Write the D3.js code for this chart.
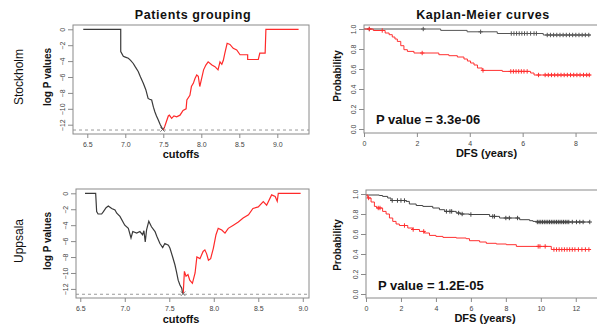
<!DOCTYPE html>
<html><head><meta charset="utf-8">
<script src="https://cdn.jsdelivr.net/npm/d3@7"></script>
<style>
html,body{margin:0;padding:0;background:#fff;}
svg{display:block;font-family:"Liberation Sans",Arial,Helvetica,sans-serif;}
</style></head>
<body><svg id="c" width="597" height="326"></svg>
<script>
// ---------------- DATA ----------------
const cutoffTicks = [6.5, 7.0, 7.5, 8.0, 8.5, 9.0];
const logPTicks = [0, -2, -4, -6, -8, -10, -12];
const probTicks = [0, 0.2, 0.4, 0.6, 0.8, 1.0];
const stoDfsTicks = [0, 2, 4, 6, 8];
const uppDfsTicks = [0, 2, 4, 6, 8, 10, 12];

// Stockholm – log P value vs cutoff
const stoLowX = [6.447, 6.94, 6.94, 6.974, 7.0, 7.04, 7.07, 7.105, 7.13, 7.17, 7.2, 7.237, 7.27, 7.30, 7.32, 7.347, 7.37, 7.39, 7.41, 7.434, 7.46, 7.49];
const stoLowY = [0, 0, -2.8, -3.4, -3.5, -3.65, -3.9, -4.3, -4.7, -5.3, -6.0, -6.8, -7.6, -8.7, -8.8, -8.9, -9.8, -10.4, -10.9, -11.4, -12.0, -12.55];
const stoHighX = [7.5, 7.52, 7.566, 7.58, 7.61, 7.64, 7.676, 7.72, 7.76, 7.80, 7.81, 7.85, 7.87, 7.895, 7.917, 7.94, 7.96, 7.98, 8.03, 8.06, 8.09, 8.14, 8.18, 8.22, 8.246, 8.27, 8.29, 8.31, 8.34, 8.377, 8.42, 8.466, 8.51, 8.61, 8.61, 8.75, 8.77, 8.84, 8.85, 9.28];
const stoHighY = [-12.67, -12.2, -10.9, -10.8, -11.2, -10.9, -11.0, -10.8, -10.2, -10.0, -8.9, -8.3, -7.2, -6.8, -6.2, -5.75, -5.9, -7.2, -5.1, -4.5, -4.1, -4.5, -4.7, -5.1, -4.1, -4.4, -3.9, -3.0, -1.76, -1.9, -2.4, -2.6, -3.2, -3.2, -3.8, -3.8, -3.0, -3.0, 0, 0];
const stoBest = [7.49, -12.6];
const stoThreshold = -12.67;

// Uppsala – log P value vs cutoff
const uppLowX = [6.553, 6.673, 6.684, 6.70, 6.74, 6.76, 6.79, 6.815, 6.853, 6.89, 6.91, 6.946, 7.0, 7.04, 7.07, 7.09, 7.134, 7.17, 7.2, 7.215, 7.23, 7.245, 7.27, 7.30, 7.34, 7.36, 7.395, 7.426, 7.45, 7.49, 7.508, 7.538, 7.564, 7.58, 7.6, 7.62, 7.64, 7.65];
const uppLowY = [0, 0, -2.3, -2.6, -2.6, -2.3, -1.8, -1.6, -1.9, -2.1, -2.5, -2.9, -4.0, -4.4, -5.6, -4.8, -5.0, -4.8, -5.2, -4.7, -6.1, -4.6, -3.5, -4.2, -4.8, -5.4, -6.3, -6.8, -6.3, -6.5, -6.9, -8.0, -9.0, -9.8, -10.9, -11.5, -11.9, -12.55];
const uppHighX = [7.657, 7.67, 7.688, 7.71, 7.73, 7.76, 7.79, 7.81, 7.845, 7.88, 7.90, 7.92, 7.94, 7.965, 7.995, 8.025, 8.05, 8.09, 8.126, 8.163, 8.22, 8.276, 8.33, 8.39, 8.44, 8.5, 8.556, 8.594, 8.65, 8.69, 8.713, 8.725, 8.976];
const uppHighY = [-12.55, -9.8, -10.4, -10.2, -10.9, -11.3, -10.0, -8.0, -8.2, -7.3, -7.1, -7.6, -8.4, -8.2, -6.9, -5.2, -4.4, -4.6, -5.0, -4.4, -4.0, -3.6, -3.1, -2.7, -1.9, -1.7, -1.05, -1.5, -0.2, -0.4, -1.0, 0, 0];
const uppBest = [7.655, -12.6];
const uppThreshold = -12.67;

// Stockholm – Kaplan-Meier (DFS years, survival)
const stoLowT = [0, 2.9, 3.9, 5.04, 6.78];
const stoLowS = [1.0, 0.986, 0.972, 0.955, 0.94];
const stoLowEnd = 8.57;
const stoLowCens = [0.2, 2.24, 4.41, 5.57, 5.67, 5.77, 5.87, 5.97, 6.07, 6.17, 6.3, 6.43, 6.52, 6.93, 7.05, 7.17, 7.29, 7.41, 7.53, 7.65, 7.77, 7.89, 8.01, 8.13, 8.25, 8.37, 8.5];
const stoHighT = [0, 0.35, 0.8, 0.95, 1.07, 1.17, 1.26, 1.39, 1.51, 1.64, 1.89, 2.83, 3.21, 3.53, 3.78, 3.91, 4.03, 4.16, 4.29, 4.47, 5.23, 6.3, 6.43];
const stoHighS = [1.0, 0.985, 0.96, 0.943, 0.92, 0.90, 0.876, 0.833, 0.793, 0.776, 0.76, 0.743, 0.733, 0.72, 0.70, 0.68, 0.66, 0.64, 0.61, 0.586, 0.576, 0.56, 0.54];
const stoHighEnd = 8.57;
const stoHighCens = [0.2, 0.69, 2.2, 4.5, 5.55, 5.65, 5.75, 5.85, 5.95, 6.05, 6.17, 6.6, 6.85, 6.97, 7.09, 7.21, 7.33, 7.45, 7.57, 7.69, 7.81, 7.93, 8.05, 8.17, 8.3, 8.42, 8.52];
const stoPText = "P value = 3.3e-06";

// Uppsala – Kaplan-Meier
const uppLowT = [0, 0.76, 0.95, 1.24, 1.43, 2.29, 2.48, 2.87, 3.25, 3.82, 4.2, 4.5, 5.16, 5.4, 5.92, 7.07, 7.64, 8.79, 9.36, 9.55, 9.75];
const uppLowS = [0.99, 0.985, 0.976, 0.96, 0.935, 0.926, 0.90, 0.885, 0.876, 0.86, 0.843, 0.826, 0.81, 0.80, 0.795, 0.776, 0.76, 0.743, 0.733, 0.726, 0.72];
const uppLowEnd = 12.8;
const uppLowCens = [1.5, 1.8, 2.0, 2.2, 4.6, 4.8, 4.9, 5.3, 5.5, 6.0, 7.25, 7.35, 8.0, 8.2, 8.67, 9.8, 9.9, 10.0, 10.1, 10.2, 10.3, 10.4, 10.5, 10.6, 10.7, 10.8, 10.9, 11.0, 11.1, 11.2, 11.3, 11.4, 11.5, 11.6, 11.8, 12.04, 12.23, 12.42, 12.8];
const uppHighT = [0, 0.1, 0.29, 0.48, 0.61, 0.95, 1.15, 1.34, 1.53, 1.72, 1.91, 2.39, 2.67, 3.06, 3.34, 3.63, 4.0, 4.4, 5.16, 5.73, 5.92, 6.5, 6.88, 7.45, 8.03, 8.6, 10.6];
const uppHighS = [0.99, 0.96, 0.92, 0.876, 0.86, 0.826, 0.80, 0.76, 0.726, 0.70, 0.685, 0.66, 0.645, 0.626, 0.61, 0.586, 0.576, 0.566, 0.56, 0.553, 0.533, 0.52, 0.507, 0.50, 0.493, 0.476, 0.445];
const uppHighEnd = 12.8;
const uppHighCens = [0.15, 0.7, 0.8, 2.2, 2.7, 3.3, 9.85, 9.95, 10.25, 10.75, 10.9, 11.05, 11.2, 11.35, 11.5, 11.65, 11.8, 11.95, 12.15, 12.35, 12.55, 12.75];
const uppPText = "P value = 1.2E-05";

// ---------------- DRAW ----------------
const svg = d3.select("#c");
svg.append("rect").attr("width",597).attr("height",326).attr("fill","#fff");
const BLACK = "#3a3a3a", RED = "#ff2a2a", FRAME = "#8a8a8a", TICKTXT = "#444";

function panel(box, xd, yd, xticks, yticks, fmtX, fmtY) {
  const x = d3.scaleLinear().domain(xd).range([box.x0, box.x1]);
  const y = d3.scaleLinear().domain(yd).range([box.y1, box.y0]);
  const g = svg.append("g");
  const ax = g.append("g").attr("transform", `translate(0,${box.y1})`)
    .call(d3.axisBottom(x).tickValues(xticks).tickFormat(fmtX).tickSize(4).tickPadding(4));
  ax.select(".domain").remove();
  ax.selectAll("line").attr("stroke", FRAME);
  ax.selectAll("text").attr("font-size", 7).attr("fill", TICKTXT).attr("font-family","Liberation Sans, Arial, sans-serif");
  const ay = g.append("g").attr("transform", `translate(${box.x0},0)`)
    .call(d3.axisLeft(y).tickValues(yticks).tickFormat(fmtY).tickSize(5).tickPadding(0));
  ay.select(".domain").remove();
  ay.selectAll("line").attr("stroke", FRAME);
  ay.selectAll("text").attr("font-size", 7).attr("fill", TICKTXT)
    .attr("font-family","Liberation Sans, Arial, sans-serif")
    .attr("x", null).attr("dy", null)
    .attr("text-anchor", "middle")
    .attr("transform", "translate(-8.5,0) rotate(-90)");
  const clipId = "clip" + Math.round(box.x0) + "_" + Math.round(box.y0);
  svg.append("clipPath").attr("id", clipId).append("rect")
    .attr("x", box.x0).attr("y", box.y0).attr("width", box.x1 - box.x0).attr("height", box.y1 - box.y0);
  const plot = g.append("g").attr("clip-path", `url(#${clipId})`);
  g.append("rect").attr("x", box.x0).attr("y", box.y0)
    .attr("width", box.x1 - box.x0).attr("height", box.y1 - box.y0)
    .attr("fill", "none").attr("stroke", FRAME).attr("stroke-width", 1);
  return {x, y, g, plot};
}

function groupingPanel(box, xd, yd, lowX, lowY, highX, highY, best, thr) {
  const p = panel(box, xd, yd, cutoffTicks, logPTicks, d3.format(".1f"), d3.format("d"));
  const line = d3.line().x(d => p.x(d[0])).y(d => p.y(d[1]));
  p.plot.append("line").attr("x1", box.x0).attr("x2", box.x1)
    .attr("y1", p.y(thr)).attr("y2", p.y(thr))
    .attr("stroke", "#999").attr("stroke-width", 1).attr("stroke-dasharray", "3,3");
  p.plot.append("path").attr("d", line(lowX.map((v,i)=>[v, lowY[i]])))
    .attr("fill","none").attr("stroke", BLACK).attr("stroke-width", 1.2);
  p.plot.append("path").attr("d", line(highX.map((v,i)=>[v, highY[i]])))
    .attr("fill","none").attr("stroke", RED).attr("stroke-width", 1.2);
  const bx = p.x(best[0]), by = p.y(best[1]);
  p.plot.append("path").attr("d", `M${bx-2.2},${by-2.2}L${bx+2.2},${by+2.2}M${bx-2.2},${by+2.2}L${bx+2.2},${by-2.2}`)
    .attr("stroke", "#555").attr("stroke-width", 0.8);
  return p;
}

function kmPanel(box, xd, xticks, curves, ptext, ptextY) {
  const p = panel(box, xd, [-0.04, 1.04], xticks, probTicks, d3.format("d"), d3.format(".1f"));
  curves.forEach(c => {
    const pts = c.t.map((v,i)=>[v, c.s[i]]);
    pts.push([c.end, c.s[c.s.length-1]]);
    const line = d3.line().x(d => p.x(d[0])).y(d => p.y(d[1])).curve(d3.curveStepAfter);
    p.plot.append("path").attr("d", line(pts)).attr("fill","none")
      .attr("stroke", c.color).attr("stroke-width", 1);
    const sAt = tt => { let v = c.s[0]; for (let i=0;i<c.t.length;i++) if (c.t[i] <= tt) v = c.s[i]; return v; };
    p.plot.selectAll(null).data(c.cens).enter().append("path")
      .attr("d", d => { const cx = p.x(d), cy = p.y(sAt(d)); return `M${cx-2.2},${cy}L${cx+2.2},${cy}M${cx},${cy-2.2}L${cx},${cy+2.2}`; })
      .attr("stroke", c.color).attr("stroke-width", 1);
  });
  svg.append("text").attr("x", box.x0 + 12).attr("y", ptextY)
    .attr("font-size", 13).attr("font-weight", "bold").attr("fill", "#111").text(ptext);
  return p;
}

function rotText(x, y, txt, size, weight) {
  svg.append("text").attr("transform", `translate(${x},${y}) rotate(-90)`)
    .attr("text-anchor","middle").attr("font-size", size).attr("font-weight", weight)
    .attr("fill","#111").text(txt);
}
function hText(x, y, txt, size, weight, ls) {
  svg.append("text").attr("x", x).attr("y", y).attr("text-anchor","middle")
    .attr("font-size", size).attr("font-weight", weight).attr("fill","#111")
    .attr("letter-spacing", ls || 0).text(txt);
}

// Stockholm grouping
groupingPanel({x0:73, x1:309, y0:25, y1:134}, [6.312, 9.417], [-13.17, 0.54],
  stoLowX, stoLowY, stoHighX, stoHighY, stoBest, stoThreshold);
// Uppsala grouping
groupingPanel({x0:76, x1:309, y0:189, y1:298}, [6.452, 9.07], [-13.14, 0.54],
  uppLowX, uppLowY, uppHighX, uppHighY, uppBest, uppThreshold);
// Stockholm KM
kmPanel({x0:364, x1:602, y0:25, y1:133}, [0, 9.0], stoDfsTicks, [
  {t: stoLowT, s: stoLowS, end: stoLowEnd, cens: stoLowCens, color: "#555"},
  {t: stoHighT, s: stoHighS, end: stoHighEnd, cens: stoHighCens, color: "#ff3030"}
], stoPText, 124);
// Uppsala KM
kmPanel({x0:366, x1:602, y0:190, y1:298}, [0, 13.5], uppDfsTicks, [
  {t: uppLowT, s: uppLowS, end: uppLowEnd, cens: uppLowCens, color: "#444"},
  {t: uppHighT, s: uppHighS, end: uppHighEnd, cens: uppHighCens, color: "#ff3030"}
], uppPText, 290);

// titles and labels
hText(193, 19, "Patients grouping", 12.5, "bold", 0.6);
hText(483, 19, "Kaplan-Meier curves", 12.5, "bold", 0.6);
hText(181, 158, "cutoffs", 11, "bold");
hText(181, 323, "cutoffs", 11, "bold");
hText(486.5, 157, "DFS (years)", 11, "bold");
hText(485, 322, "DFS (years)", 11, "bold");
rotText(50.5, 77, "log P values", 10, "bold");
rotText(50.5, 241, "log P values", 10, "bold");
rotText(340.5, 76, "Probability", 10, "bold");
rotText(340.5, 245, "Probability", 10, "bold");
rotText(22.5, 77, "Stockholm", 12, "normal");
rotText(23, 241, "Uppsala", 12, "normal");
</script></body></html>
